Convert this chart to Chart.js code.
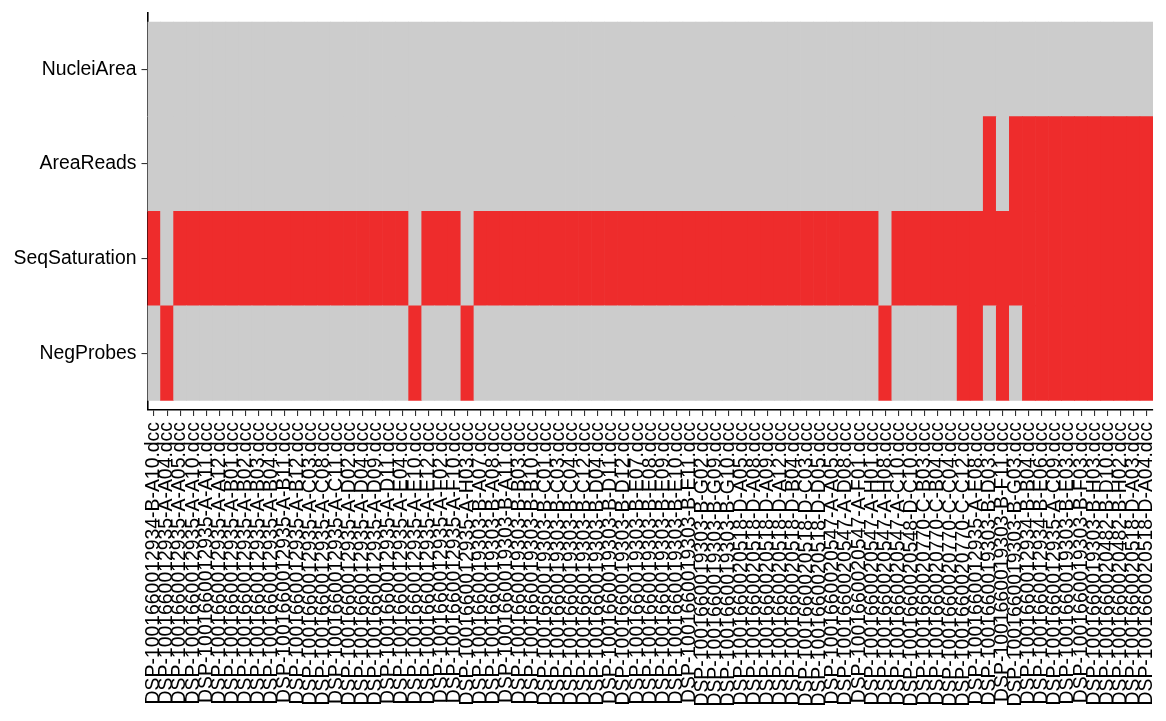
<!DOCTYPE html>
<html>
<head>
<meta charset="utf-8">
<script src="https://cdn.jsdelivr.net/npm/chart.js@4"></script>
<style>
html,body{margin:0;padding:0;background:#fff;}
#wrap{width:1166px;height:721px;position:relative;}
</style>
</head>
<body>
<div id="wrap"><canvas id="c" width="1166" height="721"></canvas></div>
<script>
// Samples (x categories)
const samples = [
  "DSP-1001660012934-B-A10.dcc","DSP-1001660012935-A-A04.dcc","DSP-1001660012935-A-A05.dcc",
  "DSP-1001660012935-A-A10.dcc","DSP-1001660012935-A-A11.dcc","DSP-1001660012935-A-A12.dcc",
  "DSP-1001660012935-A-B01.dcc","DSP-1001660012935-A-B02.dcc","DSP-1001660012935-A-B03.dcc",
  "DSP-1001660012935-A-B04.dcc","DSP-1001660012935-A-B11.dcc","DSP-1001660012935-A-B12.dcc",
  "DSP-1001660012935-A-C03.dcc","DSP-1001660012935-A-C08.dcc","DSP-1001660012935-A-C11.dcc",
  "DSP-1001660012935-A-D02.dcc","DSP-1001660012935-A-D04.dcc","DSP-1001660012935-A-D09.dcc",
  "DSP-1001660012935-A-D11.dcc","DSP-1001660012935-A-E04.dcc","DSP-1001660012935-A-E10.dcc",
  "DSP-1001660012935-A-E12.dcc","DSP-1001660012935-A-F02.dcc","DSP-1001660012935-A-F10.dcc",
  "DSP-1001660012935-A-H03.dcc","DSP-1001660019303-B-A07.dcc","DSP-1001660019303-B-A08.dcc",
  "DSP-1001660019303-B-A11.dcc","DSP-1001660019303-B-B03.dcc","DSP-1001660019303-B-B10.dcc",
  "DSP-1001660019303-B-C01.dcc","DSP-1001660019303-B-C03.dcc","DSP-1001660019303-B-C04.dcc",
  "DSP-1001660019303-B-C12.dcc","DSP-1001660019303-B-D04.dcc","DSP-1001660019303-B-D11.dcc",
  "DSP-1001660019303-B-D12.dcc","DSP-1001660019303-B-E07.dcc","DSP-1001660019303-B-E08.dcc",
  "DSP-1001660019303-B-E09.dcc","DSP-1001660019303-B-E10.dcc","DSP-1001660019303-B-E11.dcc",
  "DSP-1001660019303-B-G02.dcc","DSP-1001660019303-B-G09.dcc","DSP-1001660019303-B-G10.dcc",
  "DSP-1001660020518-D-A05.dcc","DSP-1001660020518-D-A08.dcc","DSP-1001660020518-D-A09.dcc",
  "DSP-1001660020518-D-A12.dcc","DSP-1001660020518-D-B04.dcc","DSP-1001660020518-D-C03.dcc",
  "DSP-1001660020518-D-D05.dcc","DSP-1001660020547-A-A05.dcc","DSP-1001660020547-A-D08.dcc",
  "DSP-1001660020547-A-F01.dcc","DSP-1001660020547-A-H01.dcc","DSP-1001660020547-A-H08.dcc",
  "DSP-1001660020547-A-C10.dcc","DSP-1001660020548-D-C10.dcc","DSP-1001660020770-C-B03.dcc",
  "DSP-1001660020770-C-B04.dcc","DSP-1001660020770-C-C04.dcc","DSP-1001660020770-C-C12.dcc",
  "DSP-1001660012935-A-E08.dcc","DSP-1001660019303-B-D03.dcc","DSP-1001660019303-B-F11.dcc",
  "DSP-1001660019303-B-G03.dcc","DSP-1001660012934-B-B04.dcc","DSP-1001660012934-B-E06.dcc",
  "DSP-1001660012935-A-C09.dcc","DSP-1001660019303-B-E03.dcc","DSP-1001660019303-B-F03.dcc",
  "DSP-1001660019303-B-H03.dcc","DSP-1001660020482-B-D10.dcc","DSP-1001660020482-B-H02.dcc",
  "DSP-1001660020518-D-A03.dcc","DSP-1001660020518-D-A04.dcc"
];

// QC metrics, bottom row first
const metricNames = ["NegProbes", "SeqSaturation", "AreaReads", "NucleiArea"];

// 1 = flagged (warning), 0 = passed
const negProbesFlag = [
  0,1,0,0,0,0,0,0,0,0,
  0,0,0,0,0,0,0,0,0,0,
  1,0,0,0,1,0,0,0,0,0,
  0,0,0,0,0,0,0,0,0,0,
  0,0,0,0,0,0,0,0,0,0,
  0,0,0,0,0,0,1,0,0,0,
  0,0,1,1,0,1,0,1,1,1,
  1,1,1,1,1,1,1
];
const seqSaturationFlag = [
  1,0,1,1,1,1,1,1,1,1,
  1,1,1,1,1,1,1,1,1,1,
  0,1,1,1,0,1,1,1,1,1,
  1,1,1,1,1,1,1,1,1,1,
  1,1,1,1,1,1,1,1,1,1,
  1,1,1,1,1,1,0,1,1,1,
  1,1,1,1,1,1,1,1,1,1,
  1,1,1,1,1,1,1
];
const areaReadsFlag = [
  0,0,0,0,0,0,0,0,0,0,
  0,0,0,0,0,0,0,0,0,0,
  0,0,0,0,0,0,0,0,0,0,
  0,0,0,0,0,0,0,0,0,0,
  0,0,0,0,0,0,0,0,0,0,
  0,0,0,0,0,0,0,0,0,0,
  0,0,0,0,1,0,1,1,1,1,
  1,1,1,1,1,1,1
];
const nucleiAreaFlag = [
  0,0,0,0,0,0,0,0,0,0,
  0,0,0,0,0,0,0,0,0,0,
  0,0,0,0,0,0,0,0,0,0,
  0,0,0,0,0,0,0,0,0,0,
  0,0,0,0,0,0,0,0,0,0,
  0,0,0,0,0,0,0,0,0,0,
  0,0,0,0,0,0,0,0,0,0,
  0,0,0,0,0,0,0
];

const flagRows = [negProbesFlag, seqSaturationFlag, areaReadsFlag, nucleiAreaFlag];
const RED = "#EE2C2C";
const GREY = "#CCCCCC";
const FONT = "'Liberation Sans', Arial, Helvetica, sans-serif";

const datasets = metricNames.map((name, r) => ({
  label: name,
  data: samples.map(() => [r, r + 1]),
  backgroundColor: flagRows[r].map(f => f ? RED : GREY),
  borderWidth: 0,
  barPercentage: 1,
  categoryPercentage: 1,
  grouped: false
}));

new Chart(document.getElementById("c"), {
  type: "bar",
  data: { labels: samples, datasets },
  options: {
    responsive: false,
    devicePixelRatio: 1,
    animation: false,
    layout: { padding: { top: 12.5, right: 13, left: 0, bottom: 0 } },
    plugins: { legend: { display: false }, tooltip: { enabled: false }, title: { display: false } },
    scales: {
      x: {
        type: "category",
        offset: true,
        grid: { display: true, drawOnChartArea: false, drawTicks: true, tickLength: 6, offset: false, color: "#333", lineWidth: 1.1 },
        border: { display: true, color: "#000", width: 1.6 },
        ticks: {
          autoSkip: false, minRotation: 90, maxRotation: 90, padding: 6,
          color: "#000", font: { family: FONT, size: 19.4 }
        },
        afterFit: s => { s.height = 311; s.paddingLeft = 0; s.paddingRight = 0; }
      },
      y: {
        type: "linear",
        min: -0.1, max: 4.1,
        afterBuildTicks: s => { s.ticks = metricNames.map((_, i) => ({ value: i + 0.5 })); },
        grid: { display: true, drawOnChartArea: false, drawTicks: true, tickLength: 6, color: "#333", lineWidth: 1.1 },
        border: { display: true, color: "#000", width: 1.6 },
        ticks: {
          padding: 5, color: "#000", font: { family: FONT, size: 19.4 },
          callback: v => metricNames[Math.floor(v)]
        },
        afterFit: s => { s.width = 147.5; s.paddingTop = 0; s.paddingBottom = 0; }
      }
    }
  }
});
</script>
</body>
</html>
